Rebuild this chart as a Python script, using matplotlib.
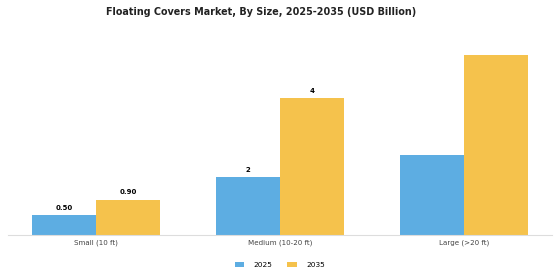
import numpy as np
from matplotlib import pyplot as plt

categories = ["Small (10 ft)", "Medium (10-20 ft)", "Large (>20 ft)"]
values_2025 = [0.50, 1.48, 2.05]
values_2035 = [0.90, 3.50, 4.59]
labels_2025 = ["0.50", "2", ""]
labels_2035 = ["0.90", "4", ""]

BLUE = "#5DADE2"
YELLOW = "#F5C24C"

fig = plt.figure(figsize=(5.6, 2.8), dpi=100)
ax = fig.add_axes([0.014, 0.161, 0.972, 0.70])

x = np.arange(len(categories))
width = 0.348
bars_a = ax.bar(x - width / 2, values_2025, width, color=BLUE, label="2025")
bars_b = ax.bar(x + width / 2, values_2035, width, color=YELLOW, label="2035")

for bars, labels in ((bars_a, labels_2025), (bars_b, labels_2035)):
    for bar, text in zip(bars, labels):
        if text:
            ax.annotate(text, (bar.get_x() + bar.get_width() / 2, bar.get_height()),
                        xytext=(0, 3), textcoords="offset points",
                        ha="center", va="bottom", fontsize=5, fontweight="bold")

ax.set_xlim(-0.478, 2.478)
ax.set_ylim(0, 5.0)
ax.set_xticks(x)
ax.set_xticklabels(categories, fontsize=5.1, color="#444444")
ax.tick_params(axis="x", length=0, pad=3)
ax.set_yticks([])
for side in ("top", "right", "left"):
    ax.spines[side].set_visible(False)
ax.spines["bottom"].set_color("#dddddd")
ax.spines["bottom"].set_linewidth(0.8)

fig.suptitle("Floating Covers Market, By Size, 2025-2035 (USD Billion)",
             fontsize=6.9, fontweight="bold", x=0.467, y=0.975, color="#222222")
fig.legend(loc="center", bbox_to_anchor=(0.5, 0.054), ncol=2, frameon=False,
           fontsize=5.3, handlelength=1.3, handleheight=0.6, handletextpad=1.3,
           columnspacing=2.0)

fig.savefig("out.png", dpi=100)
